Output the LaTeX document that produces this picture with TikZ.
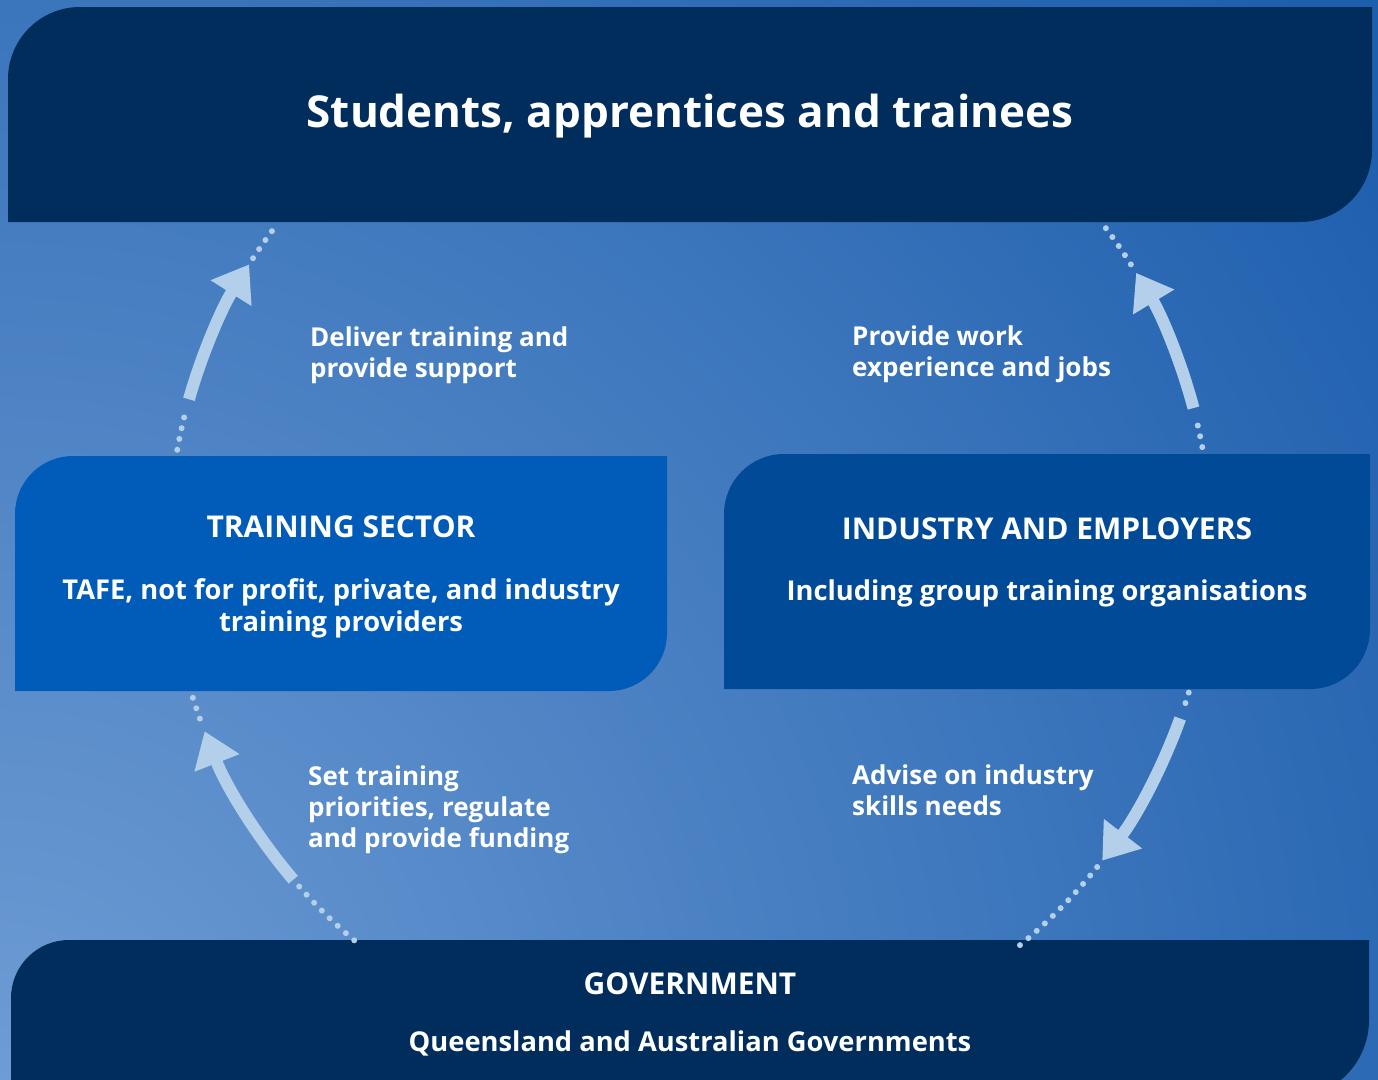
\documentclass[tikz,border=0pt]{standalone}
\usepackage{fontspec}
\setmainfont{Open Sans}
\usepackage{tikz}
\usetikzlibrary{arrows.meta}

\definecolor{navy}{HTML}{002D5C}
\definecolor{sectorblue}{HTML}{005BB9}
\definecolor{industryblue}{HTML}{004A98}
\definecolor{arrowblue}{HTML}{B3CFEA}
\definecolor{bglight}{HTML}{6E9CD4}
\definecolor{bgdark}{HTML}{1D5EAD}

\tikzset{
  title/.style={text=white, inner sep=0pt, anchor=base, font=\bfseries\fontsize{44}{50}\selectfont},
  heading/.style={text=white, inner sep=0pt, anchor=base, font=\bfseries\fontsize{30}{34}\selectfont},
  subtext/.style={text=white, inner sep=0pt, anchor=base, align=center, font=\bfseries\fontsize{27.3}{31.5}\selectfont},
  flowlabel/.style={text=white, inner sep=0pt, anchor=base west, align=left, font=\bfseries\fontsize{26}{31}\selectfont},
  flow/.style={draw=arrowblue, line width=12pt, -{Triangle[length=34pt,width=46pt]}},
  flowdots/.style={draw=arrowblue, line width=6pt, line cap=round, dash pattern=on 0pt off 11pt},
}

\begin{document}
\begin{tikzpicture}[x=1pt,y=1pt,yscale=-1]
\useasboundingbox (0,0) rectangle (1378,1079);

%Background
\begin{scope}
\clip (0,0) rectangle (1378,1079);
\fill[bgdark] (0,0) rectangle (1378,1079);
\shade[inner color=bglight, outer color=bgdark] (0,1079) circle (1700);
\end{scope}

%Shape: top panel
\fill[navy] (8,222) -- (8,79) arc[start angle=180, end angle=270, radius=72] -- (1372,7) -- (1372,150) arc[start angle=0, end angle=90, radius=72] -- cycle;
%Shape: training sector panel
\fill[sectorblue] (15,691) -- (15,514) arc[start angle=180, end angle=270, radius=58] -- (667,456) -- (667,633) arc[start angle=0, end angle=90, radius=58] -- cycle;
%Shape: industry panel
\fill[industryblue] (724,689) -- (724,514) arc[start angle=180, end angle=270, radius=60] -- (1370,454) -- (1370,629) arc[start angle=0, end angle=90, radius=60] -- cycle;
%Shape: government panel
\fill[navy] (11,1098) -- (11,998) arc[start angle=180, end angle=270, radius=58] -- (1369,940) -- (1369,1020) arc[start angle=0, end angle=90, radius=78] -- cycle;

\coordinate (ctr) at (690,542);

%Arc: training sector -> students
\draw[flowdots] (ctr) ++(-169.8:521) arc[start angle=-169.8, end angle=-165.2, radius=521];
\draw[flow] (ctr) ++(-164.1:521) arc[start angle=-164.1, end angle=-147.8, radius=521];
\draw[flowdots] (ctr) ++(-147.0:521) arc[start angle=-147.0, end angle=-142.4, radius=521];
%Arc: industry -> students
\draw[flowdots] (ctr) ++(-10.5:521) arc[start angle=-10.5, end angle=-14.0, radius=521];
\draw[flow] (ctr) ++(-14.9:521) arc[start angle=-14.9, end angle=-31.1, radius=521];
\draw[flowdots] (ctr) ++(-32.2:521) arc[start angle=-32.2, end angle=-37.2, radius=521];
%Arc: industry -> government
\draw[flowdots] (ctr) ++(16.8:521) arc[start angle=16.8, end angle=19.0, radius=521];
\draw[flow] (ctr) ++(19.8:521) arc[start angle=19.8, end angle=37.7, radius=521];
\draw[flowdots] (ctr) ++(38.6:521) arc[start angle=38.6, end angle=51.4, radius=521];
%Arc: government -> training sector
\draw[flowdots] (ctr) ++(162.6:521) arc[start angle=162.6, end angle=159.8, radius=521];
\draw[flow] (ctr) ++(139.6:521) arc[start angle=139.6, end angle=158.7, radius=521];
\draw[flowdots] (ctr) ++(138.6:521) arc[start angle=138.6, end angle=129.4, radius=521];

% Text Node
\node[title] (students) at (690,127) {Students, apprentices and trainees};
% Text Node
\node[heading] (sector) at (341,537) {TRAINING SECTOR};
\node[subtext] (providers) at (341,631) {TAFE, not for profit, private, and industry\\training providers};
% Text Node
\node[heading] (industry) at (1047,539) {INDUSTRY AND EMPLOYERS};
\node[subtext] (groups) at (1047,600) {Including group training organisations};
% Text Node
\node[heading] (government) at (690,994) {GOVERNMENT};
\node[subtext] (governments) at (690,1051) {Queensland and Australian Governments};
% Text Node
\node[flowlabel] (deliver) at (310,377) {Deliver training and\\provide support};
\node[flowlabel] (provide) at (852,376) {Provide work\\experience and jobs};
\node[flowlabel] (priorities) at (308,847) {Set training\\priorities, regulate\\and provide funding};
\node[flowlabel] (advise) at (852,815) {Advise on industry\\skills needs};

\end{tikzpicture}
\end{document}
